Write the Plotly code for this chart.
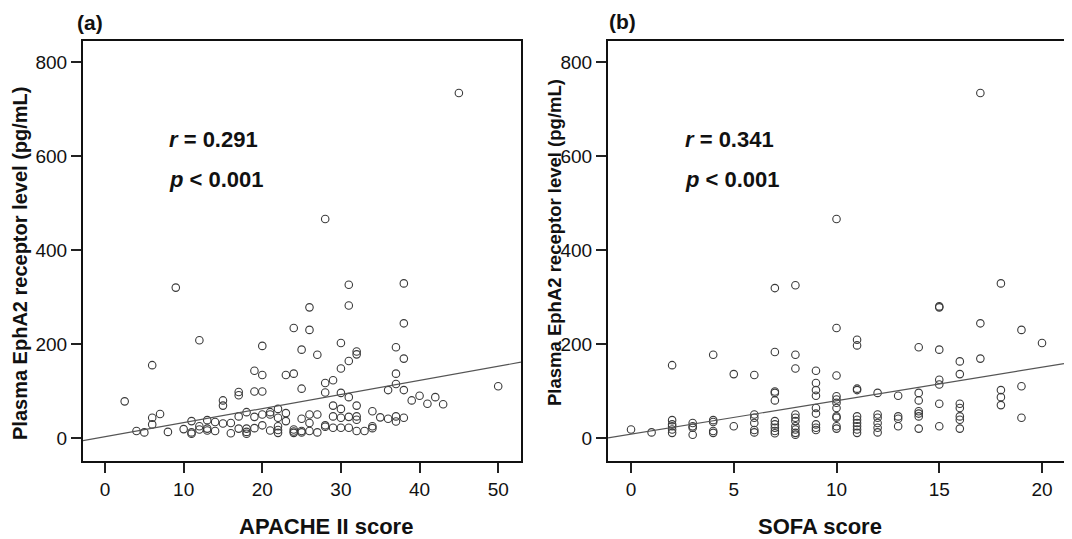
import plotly.graph_objects as go

# ---- data ----
apache_x = [45, 28, 9, 31, 38, 31, 26, 24, 26, 38, 12, 20, 25, 27, 30, 32, 32, 37, 38, 31, 30, 6, 19, 20, 23, 24, 37,
            28, 29, 37, 25, 17, 17, 19, 20, 28, 30, 31, 36, 38, 39, 40, 41, 42, 43, 50, 2.5, 15, 15, 6, 6, 7, 4, 5, 8,
            10, 11, 11, 11, 12, 12, 13, 13, 13, 14, 14, 15, 16, 16, 17, 17, 18, 18, 18, 18, 19, 19, 20, 20, 21, 21, 21,
            22, 22, 22, 22, 22, 23, 23, 24, 24, 24, 25, 25, 25, 26, 26, 26, 27, 27, 28, 28, 29, 29, 29, 30, 30, 30, 31,
            31, 32, 32, 32, 32, 33, 34, 34, 34, 35, 36, 37, 37, 38]
apache_y = [735, 467, 321, 327, 330, 283, 279, 235, 231, 245, 209, 197, 189, 178, 203, 185, 179, 194, 170, 165, 149,
            156, 144, 135, 135, 138, 138, 118, 124, 116, 106, 99, 92, 100, 100, 98, 97, 88, 103, 103, 81, 91, 74, 88,
            73, 111, 79, 81, 70, 44, 30, 52, 16, 13, 14, 20, 37, 13, 10, 26, 19, 39, 21, 17, 35, 16, 32, 33, 11, 47,
            21, 56, 21, 14, 10, 46, 22, 51, 28, 56, 51, 17, 63, 44, 26, 12, 18, 54, 37, 19, 12, 15, 42, 13, 16, 51,
            33, 16, 51, 13, 28, 25, 70, 47, 23, 63, 44, 23, 46, 23, 70, 47, 40, 16, 16, 58, 26, 22, 45, 42, 47, 36, 44]

sofa_x = [17, 10, 7, 8, 18, 15, 15, 10, 17, 11, 11, 19, 20, 14, 15, 4, 2, 7, 8, 8, 16, 17, 5, 6, 9, 10, 16, 9, 9, 9,
          7, 7, 7, 11, 11, 12, 13, 14, 14, 15, 15, 15, 18, 18, 18, 19, 19, 10, 10, 10, 10, 10, 10, 10, 10, 9, 9, 9,
          9, 9, 8, 8, 8, 8, 8, 8, 8, 7, 7, 7, 7, 7, 6, 6, 6, 6, 6, 5, 4, 4, 4, 4, 3, 3, 3, 3, 2, 2, 2, 2, 2, 1, 0,
          11, 11, 11, 11, 11, 11, 12, 12, 12, 12, 12, 13, 13, 13, 14, 14, 14, 14, 15, 16, 16, 16, 16, 16]
sofa_y = [735, 467, 320, 326, 330, 281, 279, 235, 245, 210, 198, 231, 203, 194, 189, 178, 156, 184, 178, 149, 164,
          170, 137, 135, 144, 134, 137, 118, 103, 91, 100, 97, 81, 106, 103, 97, 91, 97, 81, 125, 115, 74, 103, 88,
          71, 111, 44, 90, 83, 76, 65, 47, 44, 26, 21, 65, 53, 30, 23, 18, 51, 44, 37, 26, 19, 12, 8, 37, 30, 23,
          16, 11, 51, 44, 33, 18, 13, 26, 39, 35, 16, 12, 33, 26, 23, 8, 39, 30, 26, 19, 12, 13, 19, 47, 40, 33,
          26, 19, 12, 51, 44, 33, 23, 13, 47, 42, 26, 58, 53, 47, 21, 26, 74, 65, 47, 40, 21]

# fitted regression lines (intercept, slope)
apache_fit = [3.7, 3.0]
sofa_fit = [9.2, 7.12]

panel_labels = ["(a)", "(b)"]
stat_r = ["0.291", "0.341"]
stat_p = ["0.001", "0.001"]
x_titles = ["APACHE II score", "SOFA score"]
y_title = "Plasma EphA2 receptor level (pg/mL)"

apache_ticks = [0, 10, 20, 30, 40, 50]
sofa_ticks = [0, 5, 10, 15, 20]
y_ticks = [0, 200, 400, 600, 800]

# ---- layout geometry ----
# the page body has an 8px margin, so the figure is drawn 8px smaller and mapped with that offset
OFF = 8
W, H = 1072 - OFF, 539 - OFF
FONT = "Liberation Sans, Arial, Helvetica, sans-serif"
TXT = "#111111"

def px(x):
    return (x - OFF) / W

def py(y):
    return 1 - (y - OFF) / H

xr_a = [-2.8, 52.9]
xr_b = [-1.12, 21.07]
yr = [-47.9, 845.7]

fig = go.Figure()

mk = dict(symbol="circle-open", size=7.5, color="#3a3a3a", line=dict(width=1.1, color="#3a3a3a"))

fig.add_trace(go.Scatter(x=apache_x, y=apache_y, mode="markers", marker=mk, xaxis="x", yaxis="y",
                         showlegend=False, hoverinfo="x+y"))
fig.add_trace(go.Scatter(x=xr_a, y=[apache_fit[0] + apache_fit[1] * v for v in xr_a], mode="lines",
                         line=dict(color="#555555", width=1.2), xaxis="x", yaxis="y", showlegend=False))
fig.add_trace(go.Scatter(x=sofa_x, y=sofa_y, mode="markers", marker=mk, xaxis="x2", yaxis="y2",
                         showlegend=False, hoverinfo="x+y"))
fig.add_trace(go.Scatter(x=xr_b, y=[sofa_fit[0] + sofa_fit[1] * v for v in xr_b], mode="lines",
                         line=dict(color="#555555", width=1.2), xaxis="x2", yaxis="y2", showlegend=False))

axcommon = dict(showgrid=False, zeroline=False, showline=True, linecolor="#111111", linewidth=2,
                mirror=True, ticks="outside", ticklen=10, tickwidth=1.5, tickcolor="#222222",
                tickfont=dict(family=FONT, size=19, color=TXT))

ydom = [py(461), py(41)]
fig.update_layout(
    width=W, height=H,
    margin=dict(l=0, r=0, t=0, b=0),
    paper_bgcolor="white", plot_bgcolor="white",
    xaxis=dict(domain=[px(83), px(521)], range=xr_a, tickvals=apache_ticks, anchor="y", **axcommon),
    yaxis=dict(domain=ydom, range=yr, tickvals=y_ticks, anchor="x", **axcommon),
    xaxis2=dict(domain=[px(608), px(1064)], range=xr_b, tickvals=sofa_ticks, anchor="y2", **axcommon),
    yaxis2=dict(domain=ydom, range=yr, tickvals=y_ticks, anchor="x2", **axcommon),
)

ann = []
# panel labels
ann.append(dict(text="<b>" + panel_labels[0] + "</b>", x=px(90), y=py(22)))
ann.append(dict(text="<b>" + panel_labels[1] + "</b>", x=px(622), y=py(21)))
for a in ann:
    a.update(xref="paper", yref="paper", showarrow=False, xanchor="center", yanchor="middle",
             font=dict(family=FONT, size=21, color=TXT))

# stats
for x0, r, p in [(167, stat_r[0], stat_p[0]), (683, stat_r[1], stat_p[1])]:
    ann.append(dict(text="<b><i>r</i> = " + r + "</b>", x=px(x0), y=py(139), xref="paper", yref="paper",
                    showarrow=False, xanchor="left", yanchor="middle",
                    font=dict(family=FONT, size=22, color=TXT)))
    ann.append(dict(text="<b><i>p</i> &lt; " + p + "</b>", x=px(x0), y=py(179), xref="paper", yref="paper",
                    showarrow=False, xanchor="left", yanchor="middle",
                    font=dict(family=FONT, size=22, color=TXT)))

# axis titles
ann.append(dict(text="<b>" + x_titles[0] + "</b>", x=px(326), y=py(526), xref="paper", yref="paper",
                showarrow=False, xanchor="center", yanchor="middle", font=dict(family=FONT, size=22, color=TXT)))
ann.append(dict(text="<b>" + x_titles[1] + "</b>", x=px(820), y=py(526), xref="paper", yref="paper",
                showarrow=False, xanchor="center", yanchor="middle", font=dict(family=FONT, size=22, color=TXT)))
ann.append(dict(text="<b>" + y_title + "</b>", x=px(20), y=py(264), xref="paper", yref="paper", textangle=-90,
                showarrow=False, xanchor="center", yanchor="middle", font=dict(family=FONT, size=20, color=TXT)))
ann.append(dict(text="<b>" + y_title + "</b>", x=px(555), y=py(243), xref="paper", yref="paper", textangle=-90,
                showarrow=False, xanchor="center", yanchor="middle", font=dict(family=FONT, size=18.5, color=TXT)))

fig.update_layout(annotations=ann)
fig.write_html("out.html")
